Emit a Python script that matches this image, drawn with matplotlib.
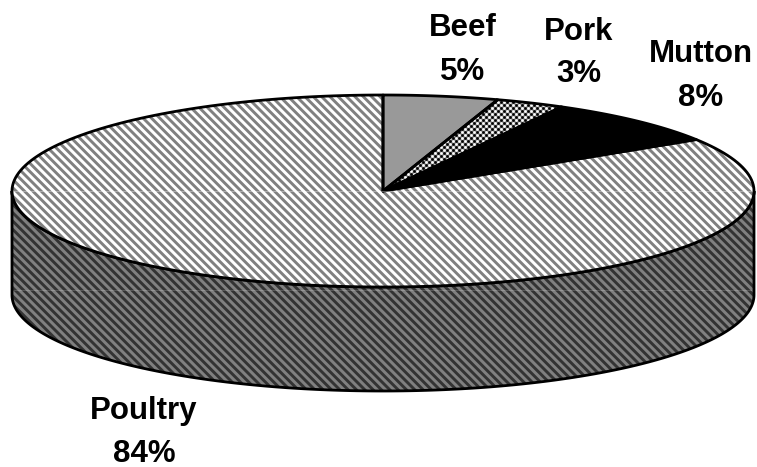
import numpy as np
import matplotlib
matplotlib.use("Agg")
import matplotlib.pyplot as plt

LABELS = ["Beef", "Pork", "Mutton", "Poultry"]
SHARES = [5, 3, 8, 84]

STRIPES = "\\" * 4
# face, hatch colour, hatch pattern per slice (pork gets a checker texture)
STYLES = [
    ("#999999", "#999999", ""),
    ("#808080", "#808080", ""),
    ("#000000", "#000000", ""),
    ("#ffffff", "#808080", STRIPES),
]
LABEL_POS = [(463, 50), (579, 53), (701, 76), (144, 432)]
CHECKER_SLICE = 1

CX, CY = 383, 191
RX, RY = 371, 96
DEPTH = 104
LINE_GAP = 21.5

plt.rcParams["font.family"] = ["Liberation Sans", "DejaVu Sans"]
plt.rcParams["hatch.linewidth"] = 2.1


def rim(start, stop, n=200):
    # angles clockwise from 12 o'clock, in share percent
    t = np.radians(np.linspace(start, stop, n) * 3.6)
    return CX + RX * np.sin(t), CY - RY * np.cos(t)


def checker(width, height):
    yy, xx = np.mgrid[0:height, 0:width]
    return np.clip(0.5 + 0.8 * np.cos(np.pi * xx / 3) * np.cos(np.pi * yy / 3), 0, 1)


def main():
    fig = plt.figure(figsize=(7.57, 4.67), dpi=100)
    ax = fig.add_axes([0, 0, 1, 1])
    ax.set_xlim(0, 757)
    ax.set_ylim(467, 0)
    ax.axis("off")

    # side wall, only the front half of the rim shows
    x, y = rim(25, 75)
    side_x = np.concatenate([x, x[::-1]])
    side_y = np.concatenate([y, y[::-1] + DEPTH])
    ax.fill(side_x, side_y, facecolor="#808080", edgecolor="#333333",
            hatch=STRIPES, linewidth=0, zorder=1)
    ax.fill(side_x, side_y, facecolor="none", edgecolor="black", linewidth=2, zorder=2)

    start = 0
    for i, (share, (face, hatch_color, hatch)) in enumerate(zip(SHARES, STYLES)):
        x, y = rim(start, start + share)
        px = np.concatenate([[CX], x])
        py = np.concatenate([[CY], y])
        patch = ax.fill(px, py, facecolor=face, edgecolor=hatch_color, hatch=hatch,
                        linewidth=0, zorder=3)[0]
        if i == CHECKER_SLICE:
            img = ax.imshow(checker(757, 467), cmap="gray", vmin=0, vmax=1,
                            extent=(0, 757, 467, 0), interpolation="nearest",
                            aspect="auto", zorder=3.5)
            img.set_clip_path(patch)
        ax.fill(px, py, facecolor="none", edgecolor="black", linewidth=2,
                joinstyle="round", zorder=4)
        start += share

    # faint seams visible in the source image
    ax.plot([14, 751], [CY, CY], color="white", linewidth=0.5, alpha=0.5, zorder=5)
    ax.plot([14, 751], [CY + 99, CY + 99], color="white", linewidth=0.5, alpha=0.25, zorder=5)

    for label, share, (lx, ly) in zip(LABELS, SHARES, LABEL_POS):
        ax.text(lx, ly - LINE_GAP, label, ha="center", va="center",
                fontsize=22.5, fontweight="bold", color="black")
        ax.text(lx, ly + LINE_GAP, f"{share}%", ha="center", va="center",
                fontsize=22.5, fontweight="bold", color="black")

    fig.savefig("out.png", dpi=100)


if __name__ == "__main__":
    main()
